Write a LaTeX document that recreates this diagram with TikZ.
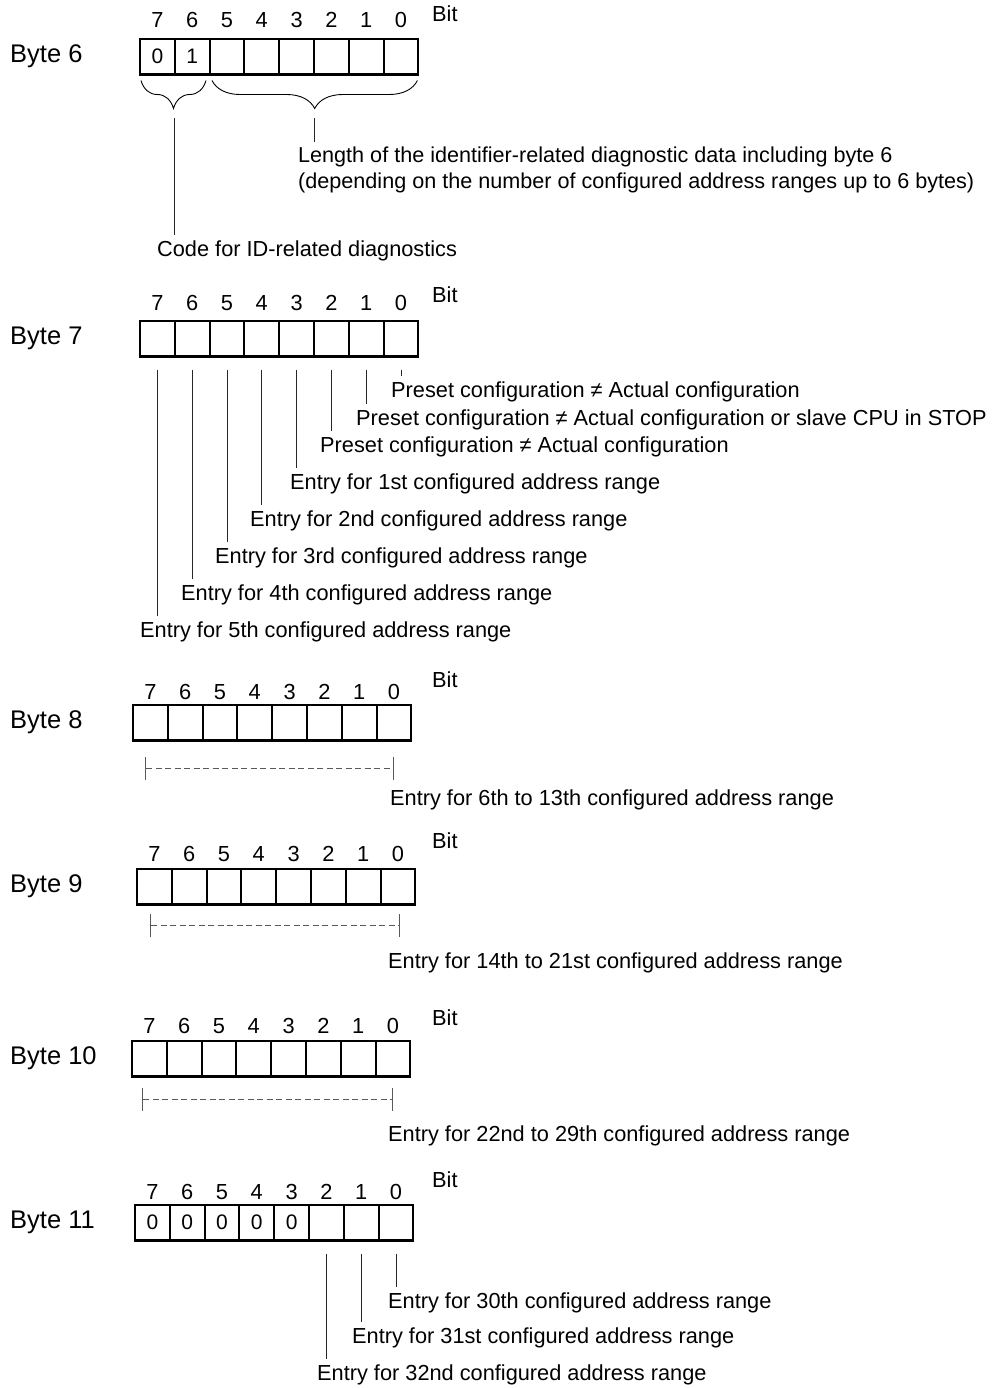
\documentclass[tikz,border=0pt]{standalone}
\usepackage{fontspec}
\setmainfont{Liberation Sans}
\usetikzlibrary{positioning,arrows.meta,calc,decorations.pathreplacing}

% one register row: name, left x, top y, digit baseline, "Bit" baseline, label
\newcommand{\byterow}[6]{%
  \node[bytelbl] (#1lbl) at (10,{#3+23.75}) {#6};
  \foreach \b [count=\i from 0] in {7,...,0} {
    \node[cell] (#1c\b) at ({#2+\i*34.8},#3) {};
    \node[bitno] (#1n\b) at ({#2+\i*34.8+17.4},#4) {\b};
  }
  \node[bitno,anchor=base west] (#1bit) at (432,#5) {Bit};
}

\begin{document}
\begin{tikzpicture}[x=1pt,y=-1pt,
  cell/.style={draw,line width=2.1pt,minimum width=34.8pt,minimum height=35.5pt,inner sep=0pt,outer sep=0pt,anchor=north west},
  bitno/.style={anchor=base,inner sep=0pt,font=\fontsize{21.8}{26}\selectfont},
  val/.style={inner sep=0pt,font=\fontsize{21}{25}\selectfont},
  bytelbl/.style={anchor=base west,inner sep=0pt,font=\fontsize{25.5}{30}\selectfont},
  txt/.style={anchor=base west,inner sep=0pt,font=\fontsize{21.75}{26}\selectfont},
  lead/.style={draw=black!85,line width=0.9pt,shorten >=5pt},
  span/.style={draw=black!65,line width=0.9pt,dash pattern=on 6pt off 3.5pt,{Bar[width=23pt]}-{Bar[width=23pt]}},
  curly/.style={draw,line width=0.9pt,decorate,decoration={brace,mirror,amplitude=28pt}}]
\useasboundingbox (0,0) rectangle (996,1388);

% Byte 6
\byterow{b6}{140}{39}{28}{22}{Byte 6}
\node[val] (b6v7) at (b6c7) {0};
\node[val] (b6v6) at (b6c6) {1};
\draw[curly] ([shift={(1pt,-6pt)}]b6c7.south west) -- ([shift={(-3.6pt,-6pt)}]b6c6.south east);
\draw[curly] ([shift={(2.4pt,-6pt)}]b6c5.south west) -- ([shift={(-1pt,-6pt)}]b6c0.south east);
\coordinate (codetip) at ($(b6c7.south west)!0.5!(b6c6.south east)+(0,34)$);
\coordinate (lentip) at ($(b6c5.south west)!0.5!(b6c0.south east)+(0,34)$);
\node[anchor=north west,inner sep=0pt,align=left,font=\fontsize{21.6}{26}\selectfont] (b6len) at (298,147)
  {Length of the identifier-related diagnostic data including byte 6\\(depending on the number of configured address ranges up to 6 bytes)};
\node[txt] (b6code) at (157,256) {Code for ID-related diagnostics};
\draw[lead] ([yshift=-10pt]lentip) -- (lentip |- b6len.north);
\draw[lead] ([yshift=-10pt]codetip) -- (codetip |- b6code.north);

% Byte 7
\byterow{b7}{140}{321}{310}{302}{Byte 7}
\foreach \b/\tx/\ty/\t in {
  0/391/397/{Preset configuration ≠ Actual configuration},
  1/356/425/{Preset configuration ≠ Actual configuration or slave CPU in STOP},
  2/320/452/{Preset configuration ≠ Actual configuration},
  3/290/489/{Entry for 1st configured address range},
  4/250/526/{Entry for 2nd configured address range},
  5/215/563/{Entry for 3rd configured address range},
  6/181/600/{Entry for 4th configured address range},
  7/140/637/{Entry for 5th configured address range}} {
  \node[txt] (b7t\b) at (\tx,\ty) {\t};
  \draw[lead] ([yshift=-13pt]b7c\b.south) -- (b7c\b.south |- b7t\b.north);
}

% Byte 8
\byterow{b8}{133}{705}{699}{687}{Byte 8}
\draw[span] ([xshift=-5pt,yshift=-27.5pt]b8c7.south) -- ([yshift=-27.5pt]b8c0.south);
\node[txt] (b8t) at (390,805) {Entry for 6th to 13th configured address range};

% Byte 9
\byterow{b9}{137}{869}{861}{848}{Byte 9}
\draw[span] ([xshift=-4pt,yshift=-21pt]b9c7.south) -- ([xshift=2pt,yshift=-21pt]b9c0.south);
\node[txt] (b9t) at (388,968) {Entry for 14th to 21st configured address range};

% Byte 10
\byterow{b10}{132}{1041}{1033}{1025}{Byte 10}
\draw[span] ([xshift=-7pt,yshift=-22.5pt]b10c7.south) -- ([yshift=-22.5pt]b10c0.south);
\node[txt] (b10t) at (388,1141) {Entry for 22nd to 29th configured address range};

% Byte 11
\byterow{b11}{135}{1205}{1199}{1187}{Byte 11}
\foreach \b in {7,...,3} {
  \node[val] (b11v\b) at (b11c\b) {0};
}
\foreach \b/\tx/\ty/\t in {
  0/388/1308/{Entry for 30th configured address range},
  1/352/1343/{Entry for 31st configured address range},
  2/317/1380/{Entry for 32nd configured address range}} {
  \node[txt] (b11t\b) at (\tx,\ty) {\t};
  \draw[lead] ([yshift=-13pt]b11c\b.south) -- (b11c\b.south |- b11t\b.north);
}
\end{tikzpicture}
\end{document}
